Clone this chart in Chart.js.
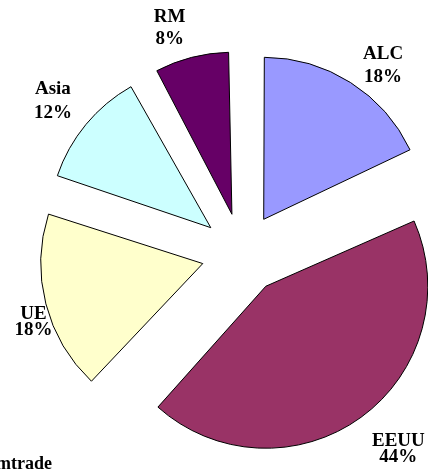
<!DOCTYPE html>
<html>
<head>
<meta charset="utf-8">
<script src="https://cdn.jsdelivr.net/npm/chart.js@4.4.0/dist/chart.umd.min.js"></script>
<style>
  html, body { margin: 0; padding: 0; background: #fff; overflow: hidden; }
  #wrap { position: relative; width: 428px; height: 470px; overflow: hidden; }
  #wrap canvas { position: absolute; left: 0; top: 0; }
  #source { position: absolute; right: 376px; top: 454px; font: bold 18px "Liberation Serif", serif;
            line-height: 18px; white-space: nowrap; color: #000; }
</style>
</head>
<body>
<div id="wrap">
  <canvas id="pie" width="428" height="470"></canvas>
  <div id="source">Fuente: Comtrade</div>
</div>
<script>
const categories = ['ALC', 'EEUU', 'UE', 'Asia', 'RM'];
const shares = [18, 44, 18, 12, 8];
const colors = ['#9999FF', '#993366', '#FFFFCC', '#CCFFFF', '#660066'];

// label placement (polar, from pie centre) and line spacing
const labelDist = [236, 249, 219, 244, 238];
const labelTurn = [4.3, -2.9, -3.4, -0.4, -3.3];
const labelLine = [23, 16, 16, 24, 22];

// chart.js grows small exploded arcs; undo that so every slice keeps one radius
const explodeFix = {
  id: 'explodeFix',
  afterDatasetUpdate(chart, args) {
    args.meta.data.forEach(arc => {
      const off = (arc.options.offset || 0) / 4;
      const fix = 1 - Math.sin(Math.min(Math.PI, arc.circumference));
      arc.outerRadius -= off * fix;
    });
  }
};

const sliceLabels = {
  id: 'sliceLabels',
  afterDatasetsDraw(chart) {
    const ctx = chart.ctx;
    const arcs = chart.getDatasetMeta(0).data;
    ctx.save();
    ctx.font = 'bold 19px "Liberation Serif", serif';
    ctx.fillStyle = '#000';
    ctx.textAlign = 'center';
    ctx.textBaseline = 'alphabetic';
    arcs.forEach((arc, i) => {
      const mid = (arc.startAngle + arc.endAngle) / 2 + labelTurn[i] * Math.PI / 180;
      const x = arc.x + Math.cos(mid) * labelDist[i];
      const y = arc.y + Math.sin(mid) * labelDist[i];
      const lh = labelLine[i];
      ctx.fillText(categories[i], x, y - lh / 2 + 6.5);
      ctx.fillText(shares[i] + '%', x, y + lh / 2 + 6.5);
    });
    ctx.restore();
  }
};

new Chart(document.getElementById('pie'), {
  type: 'pie',
  data: {
    labels: categories,
    datasets: [{
      data: shares,
      backgroundColor: colors,
      borderColor: '#000',
      borderWidth: 1,
      borderJoinStyle: 'miter',
      offset: 162
    }]
  },
  options: {
    responsive: false,
    animation: false,
    events: [],
    radius: 162,
    layout: { padding: { left: 56, top: 37, right: 0, bottom: 0 } },
    plugins: {
      legend: { display: false },
      tooltip: { enabled: false }
    }
  },
  plugins: [explodeFix, sliceLabels]
});
</script>
</body>
</html>
